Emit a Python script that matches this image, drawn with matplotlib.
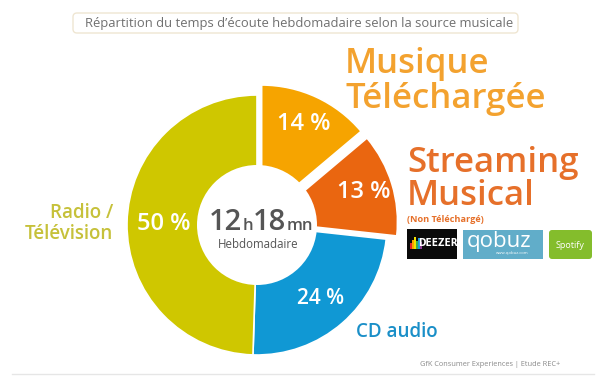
import matplotlib
matplotlib.use("Agg")
import matplotlib.pyplot as plt
from matplotlib.patches import Circle, FancyBboxPatch, Rectangle
import numpy as np

# ---------------- data ----------------
categories = ["Musique Téléchargée", "Streaming Musical", "CD audio", "Radio / Télévision"]
values = [14, 13, 24, 50]
pct_labels = ["14 %", "13 %", "24 %", "50 %"]
colors = ["#F6A400", "#EA6610", "#1098D4", "#CFC700"]
title = "Répartition du temps d’écoute hebdomadaire selon la source musicale"
center_parts = [("12", "big"), ("h", "small"), ("18", "big"), ("mn", "small")]
center_sub = "Hebdomadaire"
footer = "GfK Consumer Experiences | Etude REC+"

FONT = ["Open Sans", "DejaVu Sans"]
plt.rcParams["font.family"] = FONT

W, H = 600, 379
fig = plt.figure(figsize=(6, 3.79), dpi=100)
ax = fig.add_axes([0, 0, 1, 1])


def Y(y):
    return H - y


CX, CY, R = 257, Y(225), 130
wedges, _ = ax.pie(values, colors=colors, startangle=90, counterclock=False,
                   radius=R, center=(CX, CY), explode=[11, 11, 0, 0],
                   wedgeprops=dict(edgecolor="white", linewidth=1.2))
ax.set_xlim(0, W)
ax.set_ylim(0, H)
ax.set_aspect("equal")
ax.axis("off")

ax.add_patch(Circle((CX, CY), 60, facecolor="white", edgecolor="none", zorder=5))

# percentage labels inside wedges
label_r = [0.86, 0.86, 0.75, 0.72]
label_fs = [17, 17, 15, 17]
for w, lab, rr, fs in zip(wedges, pct_labels, label_r, label_fs):
    tm = np.deg2rad(0.5 * (w.theta1 + w.theta2))
    x = CX + rr * R * np.cos(tm)
    y = CY + rr * R * np.sin(tm)
    ax.text(x, y, lab, color="white", fontsize=fs, fontweight="semibold",
            ha="center", va="center", zorder=6)

# centre text: 12h18mn
renderer = fig.canvas.get_renderer()
sizes = {"big": 21, "small": 12}
objs = []
total = 0
for s, kind in center_parts:
    t = ax.text(0, Y(230), s, fontsize=sizes[kind], color="#555555",
                fontweight="semibold", ha="left", va="baseline", zorder=7)
    wd = t.get_window_extent(renderer).width
    objs.append((t, wd))
    total += wd
x0 = 261 - total / 2
for t, wd in objs:
    t.set_x(x0)
    x0 += wd
ax.text(258, Y(245), center_sub, fontsize=8.3, color="#555555",
        ha="center", va="center", zorder=7)

# category labels
ax.text(345, Y(73), "Musique", fontsize=25, color="#F3A22F",
        fontweight="semibold", ha="left", va="baseline")
ax.text(345, Y(108), "Téléchargée", fontsize=25, color="#F3A22F",
        fontweight="semibold", ha="left", va="baseline")
ax.text(407, Y(172), "Streaming", fontsize=25, color="#E6702A",
        fontweight="semibold", ha="left", va="baseline")
ax.text(407, Y(205), "Musical", fontsize=25, color="#E6702A",
        fontweight="semibold", ha="left", va="baseline")
ax.text(407, Y(222), "(Non Téléchargé)", fontsize=6.6, color="#E6702A",
        fontweight="bold", ha="left", va="baseline")
ax.text(113, Y(218), "Radio /", fontsize=13.5, color="#C6C13A",
        fontweight="semibold", ha="right", va="baseline")
ax.text(113, Y(239), "Télévision", fontsize=13.5, color="#C6C13A",
        fontweight="semibold", ha="right", va="baseline")
ax.text(356, Y(337), "CD audio", fontsize=13.5, color="#1A8FC8",
        fontweight="semibold", ha="left", va="baseline")

# title box
ax.add_patch(FancyBboxPatch((73, Y(33)), 445, 20,
                            boxstyle="round,pad=0,rounding_size=4",
                            facecolor="white", edgecolor="#EFE6D2", linewidth=1))
ax.text(299, Y(23), title, fontsize=9.4, color="#707070", ha="center", va="center")

# logos
ax.add_patch(Rectangle((407, Y(259)), 50, 30, facecolor="#0A0A0A", edgecolor="none"))
bar_cols = ["#E3262A", "#F7A600", "#F5E200", "#3FB14A", "#1E9BD7", "#8C3C94"]
bar_h = [6, 9, 12, 8, 11, 7]
for i, (bc, bh) in enumerate(zip(bar_cols, bar_h)):
    ax.add_patch(Rectangle((410 + i * 2.0, Y(249)), 1.6, bh, facecolor=bc, edgecolor="none"))
ax.text(438, Y(243), "DEEZER", fontsize=7.2, color="white", fontweight="bold",
        ha="center", va="center", family=["DejaVu Sans"], fontstretch="condensed")
ax.add_patch(Rectangle((463, Y(259)), 80, 29, facecolor="#61ADC9", edgecolor="none"))
ax.text(499, Y(242), "qobuz", fontsize=16, color="white", ha="center", va="center")
ax.text(512, Y(253), "www.qobuz.com", fontsize=3, color="white", ha="center", va="center")
ax.add_patch(FancyBboxPatch((549, Y(259)), 43, 29,
                            boxstyle="round,pad=0,rounding_size=3",
                            facecolor="#84BD2C", edgecolor="none"))
ax.text(570.5, Y(245), "Spotify", fontsize=6.5, color="white", ha="center", va="center")

# footer
ax.text(560, Y(365), footer, fontsize=5.3, color="#8A8A8A", ha="right", va="center")
ax.plot([12, 594], [Y(374), Y(374)], color="#E6E6E6", linewidth=1)

fig.savefig("out.png", dpi=100)
